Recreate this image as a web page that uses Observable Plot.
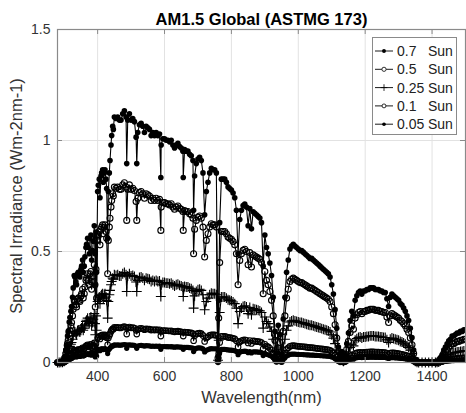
<!DOCTYPE html>
<html><head><meta charset="utf-8">
<script src="https://cdn.jsdelivr.net/npm/d3@7"></script>
<script src="https://cdn.jsdelivr.net/npm/@observablehq/plot@0.6"></script>
<style>
body{margin:0;background:#fff}
#chart{width:466px;height:413px}
</style>
</head><body><div id="chart"></div>
<script>
// Wavelength (nm)
const wavelength = [
280,285,290,295,300,305,310,315,320,325,
330,335,340,345,350,355,360,365,370,375,
380,385,390,393,395,397,400,405,410,415,
420,425,430,435,440,445,450,455,460,465,
470,475,480,485,487,490,495,500,505,510,
515,517,520,525,530,535,540,545,550,555,
560,565,570,575,580,585,589,590,595,600,
605,610,615,620,625,630,635,640,645,650,
655,656,660,665,670,675,680,685,687,690,
695,700,705,710,715,720,725,730,735,740,
745,750,755,760,762,765,770,775,780,785,
790,795,800,805,810,815,820,825,830,835,
840,845,850,855,860,865,870,875,880,885,
890,895,900,905,910,915,920,925,930,935,
940,945,950,955,960,965,970,975,980,985,
990,995,1000,1005,1010,1015,1020,1025,1030,1035,
1040,1045,1050,1055,1060,1065,1070,1075,1080,1085,
1090,1095,1100,1105,1110,1115,1120,1125,1130,1135,
1140,1145,1150,1155,1160,1165,1170,1175,1180,1185,
1190,1195,1200,1205,1210,1215,1220,1225,1230,1235,
1240,1245,1250,1255,1260,1265,1270,1275,1280,1285,
1290,1295,1300,1305,1310,1315,1320,1325,1330,1335,
1340,1345,1350,1355,1360,1370,1380,1390,1400,1410,
1415,1420,1425,1430,1435,1440,1445,1450,1455,1460,
1465,1470,1475,1480,1485,1490,1495,1500
];
// AM1.5 Global spectral irradiance at 1 sun (W m-2 nm-1)
const irradiance = [
0,0,0.002,0.005,0.02,0.08,0.17,0.26,0.33,0.42,
0.56,0.52,0.57,0.56,0.60,0.66,0.62,0.74,0.80,0.70,
0.82,0.72,0.88,0.50,0.84,0.58,1.10,1.18,1.20,1.24,
1.22,1.18,0.80,1.22,1.40,1.52,1.58,1.57,1.58,1.56,
1.56,1.60,1.62,1.58,1.28,1.56,1.60,1.56,1.57,1.55,
1.45,1.28,1.48,1.53,1.54,1.52,1.48,1.52,1.51,1.50,
1.46,1.48,1.46,1.48,1.46,1.47,1.19,1.40,1.44,1.44,
1.43,1.43,1.42,1.43,1.40,1.38,1.40,1.41,1.39,1.38,
1.36,1.19,1.37,1.36,1.36,1.34,1.33,1.30,0.98,1.20,
1.28,1.31,1.32,1.30,1.22,0.95,1.10,1.16,1.22,1.25,
1.24,1.24,1.22,0.04,0.40,0.90,1.18,1.18,1.18,1.16,
1.13,1.12,1.11,1.09,1.06,0.98,0.70,0.92,0.98,1.01,
1.02,1.00,0.88,0.99,0.86,0.97,0.96,0.95,0.94,0.93,
0.90,0.62,0.82,0.74,0.70,0.64,0.56,0.42,0.20,0.06,
0.24,0.18,0.05,0.28,0.42,0.58,0.66,0.73,0.75,0.76,
0.75,0.74,0.73,0.72,0.72,0.71,0.70,0.69,0.68,0.67,
0.67,0.66,0.65,0.64,0.63,0.62,0.61,0.60,0.59,0.58,
0.57,0.55,0.50,0.44,0.34,0.22,0.10,0.04,0.07,0.02,
0.05,0.12,0.19,0.27,0.33,0.30,0.40,0.43,0.45,0.46,
0.44,0.46,0.46,0.47,0.47,0.48,0.48,0.48,0.47,0.47,
0.47,0.46,0.46,0.45,0.45,0.41,0.36,0.42,0.44,0.43,
0.42,0.41,0.40,0.38,0.37,0.35,0.33,0.30,0.27,0.22,
0.16,0.08,0.02,0.005,0,0,0,0,0,0,
0.002,0.01,0.03,0.05,0.08,0.10,0.12,0.14,0.15,0.17,
0.17,0.18,0.19,0.19,0.20,0.20,0.21,0.21
];
// extra UV / blue samples (denser part of the spectrum)
const wavelengthFine = [302,307,312,317,322,327,332,337,342,347,352,357,362,367,372,377,382,387,392,402,407,412,417,422,427,432,437,442,447];
const irradianceFine = [0.04,0.11,0.20,0.29,0.36,0.48,0.55,0.50,0.58,0.55,0.62,0.58,0.68,0.76,0.74,0.80,0.66,0.78,0.70,1.14,1.06,1.22,1.16,1.24,1.12,1.10,1.30,1.46,1.50];

const suns = [0.7, 0.5, 0.25, 0.1, 0.05];
const sunLabels = ["0.7", "0.5", "0.25", "0.1", "0.05"];
const xTicks = [400, 600, 800, 1000, 1200, 1400];
const yTicks = [0, 0.5, 1, 1.5];
const titleText = "AM1.5 Global (ASTMG 173)";
const xLabel = "Wavelength(nm)";
const yLabel = "Spectral Irradiance (Wm-2nm-1)";

// marker styles per series
const markers = [
  {symbol: "circle", r: 2.8, fill: "black", stroke: "none"},
  {symbol: "circle", r: 3.0, fill: "none", stroke: "black"},
  {symbol: "plus", r: 3.3, fill: "none", stroke: "black"},
  {symbol: "circle", r: 2.8, fill: "none", stroke: "black"},
  {symbol: "circle", r: 2.6, fill: "black", stroke: "none"}
];

const spectrum = wavelength.map((w, i) => ({w, e: irradiance[i]}))
  .concat(wavelengthFine.map((w, i) => ({w, e: irradianceFine[i]})))
  .sort((a, b) => a.w - b.w);
const rows = suns.flatMap((s, k) => spectrum.map(p => ({w: p.w, v: s * p.e, k})));

const W = 466, H = 413, mL = 57, mR = 1, mT = 29, mB = 51;
const plotW = W - mL - mR, plotH = H - mT - mB;
const axisColor = "#8a8a8a";
const font = "'Liberation Sans', Arial, sans-serif";

const seriesMarks = suns.flatMap((s, k) => {
  const d = rows.filter(r => r.k === k);
  const m = markers[k];
  return [
    Plot.line(d, {x: "w", y: "v", stroke: "black", strokeWidth: 1.1}),
    Plot.dot(d, {x: "w", y: "v", symbol: m.symbol, r: m.r, fill: m.fill, stroke: m.stroke, strokeWidth: 1.1})
  ];
});

const chart = Plot.plot({
  width: W, height: H,
  marginLeft: mL, marginRight: mR, marginTop: mT, marginBottom: mB,
  style: {fontFamily: font, fontSize: "14px", color: "#333", background: "#fff", overflow: "visible"},
  x: {domain: [280, 1500]},
  y: {domain: [0, 1.5]},
  marks: [
    Plot.gridX(xTicks, {stroke: "#e2e2e2", strokeOpacity: 1}),
    Plot.gridY(yTicks, {stroke: "#e2e2e2", strokeOpacity: 1}),
    ...seriesMarks,
    Plot.frame({stroke: axisColor, strokeWidth: 1.2}),
    Plot.tickX(xTicks, {x: d => d, insetTop: plotH - 5, stroke: axisColor}),
    Plot.tickX(xTicks, {x: d => d, insetBottom: plotH - 5, stroke: axisColor}),
    Plot.tickY(yTicks, {y: d => d, insetRight: plotW - 5, stroke: axisColor}),
    Plot.tickY(yTicks, {y: d => d, insetLeft: plotW - 5, stroke: axisColor}),
    Plot.axisX(xTicks, {tickSize: 0, tickPadding: 9, fill: "#333", fontSize: 14, tickFormat: d => String(d), label: null}),
    Plot.axisY(yTicks, {tickSize: 0, tickPadding: 7, fill: "#333", fontSize: 14, tickFormat: d => String(d), label: null}),
    Plot.text([xLabel], {text: d => d, frameAnchor: "bottom", dy: 40, lineAnchor: "bottom", fontSize: 16.5, fill: "#333"}),
    Plot.text([yLabel], {text: d => d, frameAnchor: "left", dx: -47, rotate: -90, textAnchor: "middle", lineAnchor: "top", fontSize: 16.5, fill: "#333"}),
    Plot.text([titleText], {text: d => d, frameAnchor: "top", dy: -5, lineAnchor: "bottom",
      fontWeight: "bold", fontSize: 16.5, fill: "black"})
  ]
});

// legend (drawn into the same SVG)
const svg = d3.select(chart);
const lg = svg.append("g").attr("font-family", font).attr("font-size", 14).attr("fill", "#222").attr("text-anchor", "start");
lg.append("rect").attr("x", 372.5).attr("y", 37.5).attr("width", 84).attr("height", 97)
  .attr("fill", "white").attr("stroke", axisColor).attr("stroke-width", 1);
const symMap = {circle: d3.symbolCircle, plus: d3.symbolPlus};
sunLabels.forEach((lab, k) => {
  const cy = 51 + k * 18.3;
  const m = markers[k];
  const rr = m.r * 0.7;
  lg.append("line").attr("x1", 375).attr("x2", 393).attr("y1", cy).attr("y2", cy)
    .attr("stroke", "black").attr("stroke-width", 0.9);
  lg.append("path").attr("transform", `translate(384,${cy})`)
    .attr("d", d3.symbol(symMap[m.symbol], Math.PI * rr * rr)())
    .attr("fill", m.fill === "none" ? "white" : m.fill).attr("stroke", m.stroke).attr("stroke-width", 0.8);
  lg.append("text").attr("x", 397).attr("y", cy).attr("dy", "0.35em").attr("text-anchor", "start").text(lab);
  lg.append("text").attr("x", 428).attr("y", cy).attr("dy", "0.35em").attr("text-anchor", "start").text("Sun");
});

document.getElementById("chart").appendChild(chart);
</script>
</body></html>
